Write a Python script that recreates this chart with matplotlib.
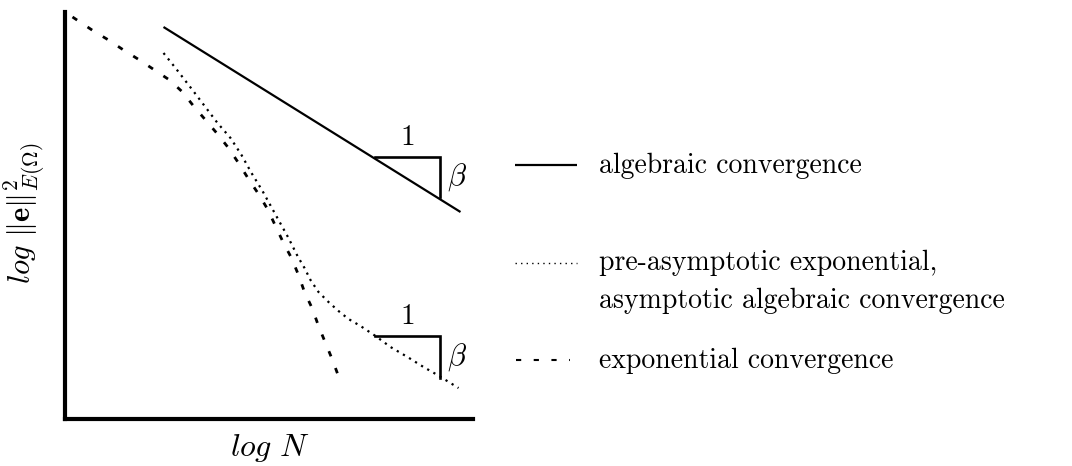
import numpy as np
import matplotlib
matplotlib.use("Agg")
import matplotlib.pyplot as plt

plt.rcParams['font.family'] = 'cmr10'
plt.rcParams['mathtext.fontset'] = 'cm'
plt.rcParams['axes.unicode_minus'] = False

# schematic convergence curves: x = log N, y = log of the energy error (arbitrary units)
alg_x = [99, 396]
alg_y = [391, 206]

pre_x = [99, 111, 128, 153, 166, 177, 187, 198, 214, 224, 233, 240, 246, 254,
         264, 274, 284, 296, 311, 326, 343, 359, 373, 394]
pre_y = [365, 350, 328, 295, 280, 263, 245, 227, 198, 180, 162, 150, 138, 126,
         116, 107, 99, 92, 82, 71, 61, 51, 43, 30]

exp_x = [8, 29, 44, 59, 75, 90, 105, 118, 129, 141, 153, 164, 174, 184, 194,
         203, 211, 219, 227, 234, 240, 248, 254, 268, 275]
exp_y = [401, 387, 378, 368, 358, 348, 338, 326, 312, 298, 284, 270, 255, 239,
         224, 209, 192, 175, 160, 143, 126, 109, 92, 58, 39]

# slope triangles (run 1, rise beta)
tri_x = [311, 376, 376]
tri_alg_y = [261, 261, 221]
tri_pre_y = [82, 82, 40]

labels = ["algebraic convergence",
          "pre-asymptotic exponential,\nasymptotic algebraic convergence",
          "exponential convergence"]

W, H = 1072, 466
fig = plt.figure(figsize=(W / 100, H / 100), dpi=100)
ax = fig.add_axes([64.5 / W, (H - 419) / H, 408.5 / W, 407 / H])

ax.plot(alg_x, alg_y, color='black', lw=1.6, solid_capstyle='butt')
ax.plot(pre_x, pre_y, color='black', lw=1.6, linestyle=(0, (1, 2.2)))
ax.plot(exp_x, exp_y, color='black', lw=2, linestyle=(0, (2, 4.5)))

for ty in (tri_alg_y, tri_pre_y):
    ax.plot(tri_x, ty, color='black', lw=1.9, solid_joinstyle='miter')
    xm = (tri_x[0] + tri_x[1]) / 2
    ax.text(xm, ty[0] + 6, '1', ha='center', va='bottom', fontsize=21)
    ax.text(tri_x[1] + 7, (ty[1] + ty[2]) / 2, r'$\beta$', ha='left', va='center',
            fontsize=22)

ax.set_xlim(0, 408.5)
ax.set_ylim(-1, 406)
ax.set_xticks([])
ax.set_yticks([])
for side in ('top', 'right'):
    ax.spines[side].set_visible(False)
for side in ('left', 'bottom'):
    ax.spines[side].set_linewidth(3)
    ax.spines[side].set_capstyle('projecting')

ax.set_xlabel(r'$log\ N$', fontsize=23, va='center')
ax.xaxis.set_label_coords(0.503, -0.072)
ax.set_ylabel(r'$log\ \Vert\mathbf{e}\Vert^2_{E(\mathit{\Omega})}$', fontsize=22, va='center')
ax.yaxis.set_label_coords(-0.098, 0.506)

# legend drawn in figure pixel coordinates
lg = fig.add_axes([0, 0, 1, 1])
lg.set_xlim(0, W)
lg.set_ylim(H, 0)
lg.axis('off')
lg.plot([515, 577], [165, 165], color='black', lw=1.6, solid_capstyle='butt')
lg.plot([515, 577], [263, 263], color='black', lw=1.0, linestyle=(0, (1, 3)))
lg.plot([516, 570], [360, 360], color='black', lw=1.5, linestyle=(0, (2.5, 6)))

baselines = [[173], [270, 308], [368]]
for lab, ys in zip(labels, baselines):
    for line, y in zip(lab.split('\n'), ys):
        lg.text(599, y, line, ha='left', va='baseline', fontsize=20)

fig.savefig('out.png', dpi=100)
